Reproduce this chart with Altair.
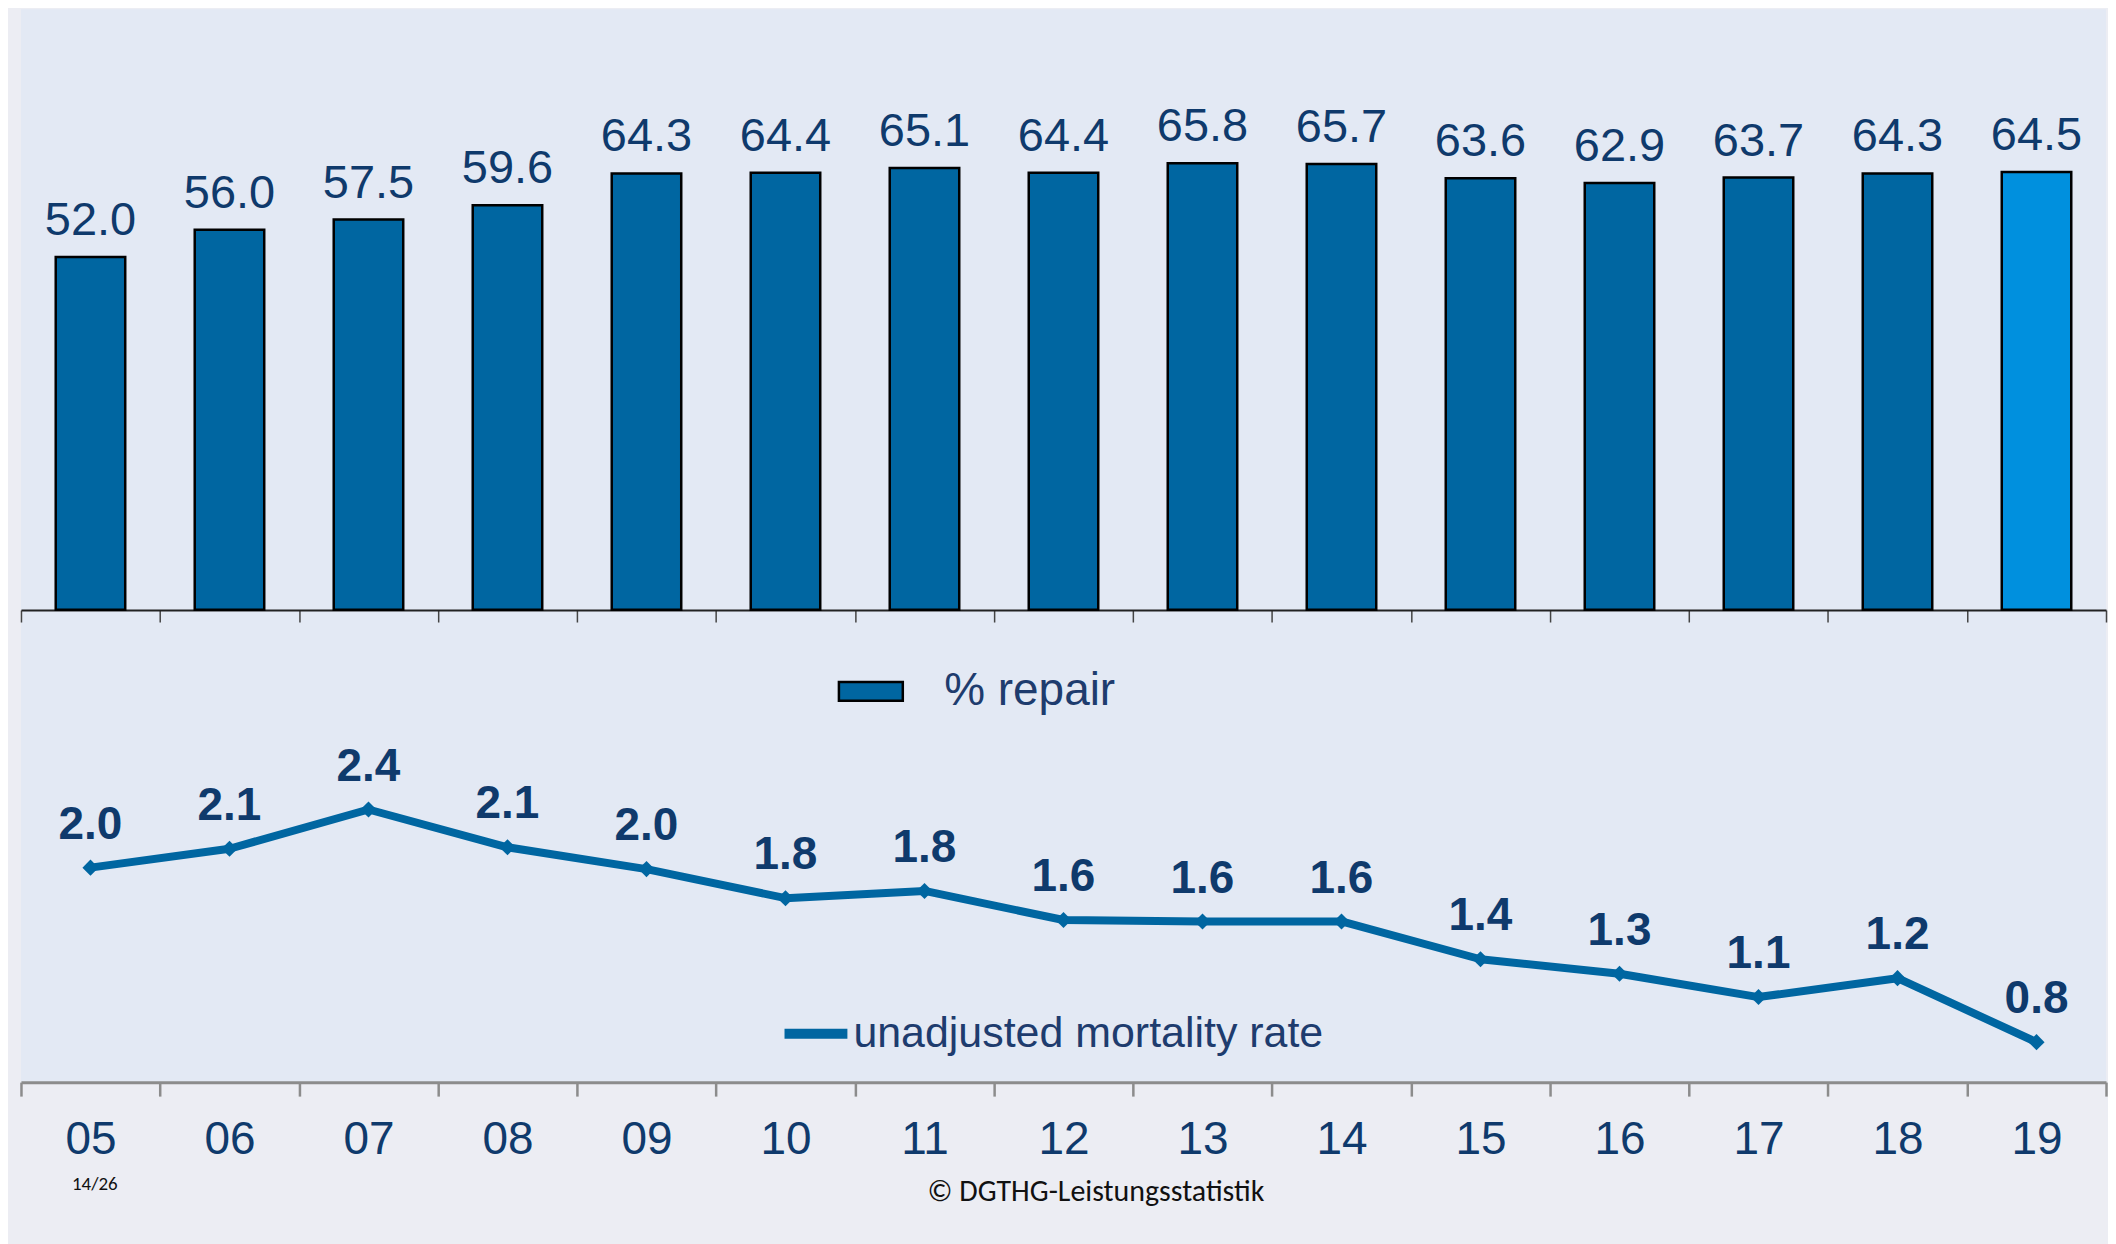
import altair as alt
import pandas as pd

years = ["05", "06", "07", "08", "09", "10", "11", "12", "13", "14", "15", "16", "17", "18", "19"]
repair = [52.0, 56.0, 57.5, 59.6, 64.3, 64.4, 65.1, 64.4, 65.8, 65.7, 63.6, 62.9, 63.7, 64.3, 64.5]
mortality = [2.00, 2.13, 2.40, 2.14, 1.99, 1.79, 1.84, 1.64, 1.63, 1.63, 1.37, 1.27, 1.11, 1.24, 0.80]
bar_group = ["% repair"] * 14 + ["2019"]
line_series = ["unadjusted mortality rate"] * 15
footer = ["© DGTHG-Leistungsstatistik"]
page = ["14/26"]

df = pd.DataFrame({"year": years, "repair": repair, "grp": bar_group,
                   "mort": mortality, "series": line_series})

W, H = 2089, 1075
NAVY = "#0F3A6C"
BLUE = "#0066A1"
NARROW = "Liberation Sans Narrow, Arial Narrow, Liberation Sans, Arial"
SANS = "Liberation Sans, Arial"

xscale = alt.Scale(paddingInner=0, paddingOuter=0)
x_mid = alt.X("year:N", sort=years, title=None, scale=xscale,
              axis=alt.Axis(orient="bottom", offset=-473, labels=False, tickBand="extent",
                            domainColor="#222222", domainWidth=2, tickColor="#444444",
                            tickWidth=1.5, tickSize=12, grid=False))
x_bot = alt.X("year:N", sort=years, title=None, scale=xscale,
              axis=alt.Axis(orient="bottom", tickBand="extent", domainColor="#8C8C8C",
                            domainWidth=3, tickColor="#8C8C8C", tickWidth=2.5, tickSize=14,
                            labelFont=SANS, labelFontSize=46, labelColor=NAVY,
                            labelPadding=22, labelAngle=0, grid=False))

ybar = alt.Y("repair:Q", scale=alt.Scale(domain=[-69.6, 88.5], nice=False, zero=False), axis=None)

bars = alt.Chart(df).mark_bar(stroke="black", strokeWidth=2.5, width=alt.RelativeBandSize(0.5)).encode(
    x=x_mid, y=ybar,
    y2=alt.datum(0),
    fill=alt.Fill("grp:N", scale=alt.Scale(domain=["% repair", "2019"], range=[BLUE, "#0090DE"]),
                  legend=alt.Legend(title=None, values=["% repair"], orient="none",
                                    legendX=818, legendY=650,
                                    symbolType="M-1,-0.297H1V0.297H-1Z", symbolSize=4096,
                                    symbolStrokeColor="black", symbolStrokeWidth=2.5,
                                    labelFont=NARROW, labelFontSize=46, labelColor="#1E3C6E",
                                    labelOffset=40, labelLimit=0, padding=0)),
)
bar_text = alt.Chart(df).mark_text(font=NARROW, fontSize=47, color=NAVY, baseline="alphabetic", dy=-22).encode(
    x=x_mid, y=ybar, text=alt.Text("repair:Q", format=".1f"))
bar_layer = alt.layer(bars, bar_text)

yline = alt.Y("mort:Q", scale=alt.Scale(domain=[0.525, 7.904], nice=False, zero=False), axis=None)
line = alt.Chart(df).mark_line(strokeWidth=8, strokeJoin="round", strokeCap="round").encode(
    x=x_bot, y=yline,
    stroke=alt.Stroke("series:N", scale=alt.Scale(range=[BLUE]),
                      legend=alt.Legend(title=None, orient="none", legendX=760, legendY=990,
                                        symbolType="stroke", symbolSize=3969, symbolStrokeWidth=10,
                                        labelFont=NARROW, labelFontSize=43, labelColor="#1E3C6E",
                                        labelOffset=1, labelLimit=0, padding=0)))
pts = alt.Chart(df).mark_point(shape="diamond", filled=True, size=260, color=BLUE, opacity=1).encode(
    x=x_bot, y=yline)
line_text = alt.Chart(df).mark_text(font=NARROW, fontWeight="bold", fontSize=46, color=NAVY,
                                    baseline="alphabetic", dy=-29).encode(
    x=x_bot, y=yline, text=alt.Text("mort:Q", format=".1f"))

foot = alt.Chart(pd.DataFrame({"t": footer})).mark_text(
    font="Carlito, Open Sans, sans-serif", fontSize=30, color="#111111", baseline="middle").encode(
    text="t:N", x=alt.value(1077), y=alt.value(1185))
pg = alt.Chart(pd.DataFrame({"t": page})).mark_text(
    font="Carlito, Open Sans, sans-serif", fontSize=19, color="#111111", baseline="middle").encode(
    text="t:N", x=alt.value(74), y=alt.value(1177))

line_layer = alt.layer(line, pts, line_text, foot, pg)

chart = alt.layer(bar_layer, line_layer).resolve_scale(
    y="independent", fill="independent", stroke="independent"
).resolve_axis(x="independent").resolve_legend(fill="independent", stroke="independent").properties(
    width=W, height=H, background="#ECEDF3", padding={"left": 11, "top": 0, "right": 0, "bottom": 40}
).configure_view(fill="#E3E9F4", stroke=None)

chart.save("out.html", embed_options={"renderer": "svg", "actions": False})
